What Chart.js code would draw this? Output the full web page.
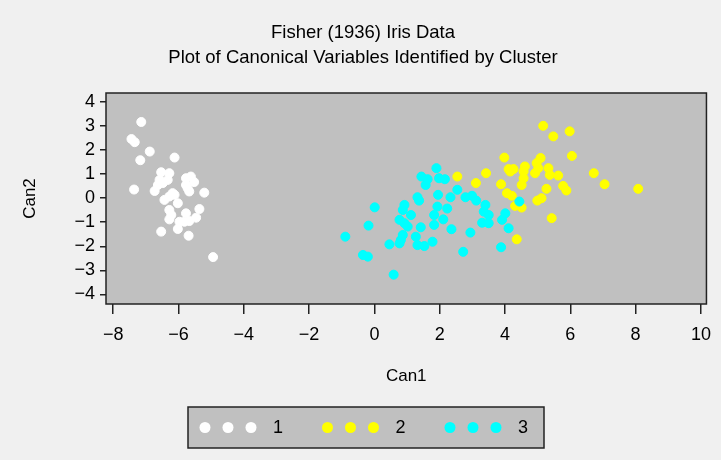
<!DOCTYPE html>
<html>
<head>
<meta charset="utf-8">
<script src="https://cdn.jsdelivr.net/npm/chart.js@4.4.1/dist/chart.umd.min.js"></script>
<style>
  html, body { margin: 0; padding: 0; background: #f0f0f0; }
  #wrap { width: 721px; height: 460px; }
</style>
</head>
<body>
<div id="wrap"><canvas id="irisChart" width="721" height="460"></canvas></div>
<script>
// Dados (Can1 / Can2 por cluster)
const clusterNames = ['1', '2', '3'];
const clusterColors = ['#ffffff', '#ffff00', '#00ffff'];

const can1Cluster1 = [-7.14,-7.44,-7.34,-6.88,-7.17,-6.12,-6.53,-6.28,-5.77,-5.62,
  -5.52,-7.36,-6.63,-6.48,-6.73,-5.21,-5.67,-6.18,-6.43,-6.02,
  -6.28,-5.36,-5.77,-5.46,-6.28,-5.97,-5.67,-6.53,-6.02,-5.69,
  -4.94,-6.58,-6.33,-5.77,-6.28,-6.12,-5.72,-6.22,-5.82];
const can2Cluster1 = [3.17,2.46,2.33,1.94,1.58,1.69,1.08,1.04,0.83,0.90,
  0.67,0.36,0.55,0.63,0.30,0.23,0.28,0.21,-0.07,-0.21,
  -0.49,-0.45,-0.63,-0.81,-0.88,-0.98,-0.95,-1.39,-1.28,-1.56,
  -2.45,0.76,0.76,0.55,0.07,0.14,0.42,-0.70,-0.98];

const can1Cluster2 = [5.17,5.48,5.98,6.05,3.98,5.09,4.97,4.11,4.26,4.16,
  4.61,4.57,3.42,4.92,5.02,5.33,5.37,5.63,4.57,4.51,
  3.88,6.72,7.05,8.08,4.06,4.21,5.78,5.88,5.27,5.12,
  4.99,4.31,4.51,5.43,4.36,2.54,3.11];
const can2Cluster2 = [3.01,2.57,2.78,1.76,1.69,1.67,1.46,1.21,1.21,1.11,
  1.32,1.11,1.04,1.04,1.25,1.25,0.97,0.94,0.83,0.55,
  0.58,1.04,0.58,0.39,0.21,0.10,0.51,0.32,0.39,0.00,
  -0.10,-0.32,-0.39,-0.83,-1.71,0.90,0.63];

const can1Cluster3 = [1.90,1.44,1.63,1.57,1.98,2.16,2.54,2.33,1.95,2.79,
  2.99,3.12,1.32,1.37,0.92,0.87,0.01,1.93,2.23,3.40,
  3.35,1.83,2.11,1.12,0.77,0.92,1.02,1.83,1.42,3.50,
  3.30,3.50,3.91,4.01,-0.18,4.11,2.36,0.87,0.81,1.27,
  1.32,1.53,1.78,2.94,-0.89,0.46,0.77,2.72,-0.35,-0.20,
  3.88,0.59,4.44];
const can2Cluster3 = [1.25,0.90,0.79,0.55,0.83,0.79,0.35,0.04,0.14,0.04,
  0.10,-0.10,0.04,-0.10,-0.28,-0.49,-0.38,-0.35,-0.43,-0.28,
  -0.56,-0.70,-0.88,-0.70,-0.90,-1.04,-1.18,-1.11,-1.21,-0.70,
  -1.02,-1.04,-0.90,-0.63,-1.14,-1.25,-1.29,-1.53,-1.74,-1.60,
  -1.95,-1.99,-1.81,-1.43,-1.60,-1.92,-1.88,-2.23,-2.36,-2.43,
  -2.04,-3.18,-0.14];

const can1Ticks = [-8, -6, -4, -2, 0, 2, 4, 6, 8, 10];
const can2Ticks = [-4, -3, -2, -1, 0, 1, 2, 3, 4];

const titleLines = ['Fisher (1936) Iris Data', 'Plot of Canonical Variables Identified by Cluster'];

const fontFamily = '"Liberation Sans", Arial, Helvetica, sans-serif';
Chart.defaults.font.family = fontFamily;
Chart.defaults.color = '#000';

function pontos(xs, ys) {
  return xs.map((x, i) => ({ x: x, y: ys[i] }));
}

function rotuloMenos(v) {
  return v < 0 ? '\u2212' + Math.abs(v) : String(v);
}

// fundo cinza e moldura da area do grafico
const plotFrame = {
  id: 'plotFrame',
  afterLayout(chart) {
    // titulo centrado na pagina toda, como no original
    if (chart.titleBlock) {
      chart.titleBlock.left = 0;
      chart.titleBlock.right = 726;
    }
  },
  beforeDraw(chart) {
    const a = chart.chartArea, ctx = chart.ctx;
    ctx.save();
    ctx.fillStyle = '#c0c0c0';
    ctx.fillRect(a.left, a.top, a.right - a.left, a.bottom - a.top);
    ctx.restore();
  },
  afterDatasetsDraw(chart) {
    const a = chart.chartArea, ctx = chart.ctx;
    ctx.save();
    ctx.strokeStyle = '#222';
    ctx.lineWidth = 1.5;
    ctx.strokeRect(a.left, a.top, a.right - a.left, a.bottom - a.top);
    ctx.restore();
  }
};

// legenda SAS: tres pontos e o numero do cluster, numa caixa cinza
const legendBox = {
  id: 'legendBox',
  afterDraw(chart) {
    const ctx = chart.ctx;
    const left = 188, top = 407, width = 356, height = 41;
    ctx.save();
    ctx.fillStyle = '#c0c0c0';
    ctx.fillRect(left, top, width, height);
    ctx.strokeStyle = '#222';
    ctx.lineWidth = 1.5;
    ctx.strokeRect(left, top, width, height);
    const cy = top + height / 2;
    chart.data.datasets.forEach((ds, i) => {
      const gx = left + 17 + i * 122.5;
      ctx.fillStyle = ds.backgroundColor;
      for (let k = 0; k < 3; k++) {
        ctx.beginPath();
        ctx.arc(gx + k * 23, cy, 5.5, 0, Math.PI * 2);
        ctx.fill();
      }
      ctx.fillStyle = '#000';
      ctx.font = '18px ' + fontFamily;
      ctx.textAlign = 'center';
      ctx.textBaseline = 'middle';
      ctx.fillText(ds.label, gx + 73, cy + 1);
    });
    ctx.restore();
  }
};

const dadosX = [can1Cluster1, can1Cluster2, can1Cluster3];
const dadosY = [can2Cluster1, can2Cluster2, can2Cluster3];

new Chart(document.getElementById('irisChart').getContext('2d'), {
  type: 'scatter',
  data: {
    datasets: clusterNames.map((nome, i) => ({
      label: nome,
      data: pontos(dadosX[i], dadosY[i]),
      backgroundColor: clusterColors[i],
      borderColor: clusterColors[i],
      borderWidth: 1,
      pointRadius: 4.5,
      order: 3 - i
    }))
  },
  options: {
    responsive: false,
    animation: false,
    devicePixelRatio: 1,
    layout: { padding: { left: 0, right: 10, top: 0, bottom: 73 } },
    plugins: {
      legend: { display: false },
      tooltip: { enabled: false },
      title: {
        display: true,
        text: titleLines,
        color: '#000',
        font: { size: 18.5, weight: 'normal', lineHeight: '25px' },
        padding: { top: 20.5, bottom: 22.5 }
      }
    },
    scales: {
      x: {
        type: 'linear',
        min: -8.22,
        max: 10.17,
        afterFit: s => { s.height = 83; },
        afterBuildTicks: s => { s.ticks = can1Ticks.map(v => ({ value: v })); },
        border: { display: false },
        grid: { drawOnChartArea: false, drawTicks: true, tickLength: 10, color: '#222', lineWidth: 1.5 },
        ticks: { font: { size: 18 }, padding: 10, maxRotation: 0, autoSkip: false, callback: rotuloMenos },
        title: { display: true, text: 'Can1', font: { size: 17 }, padding: { top: 0, bottom: 0 } }
      },
      y: {
        type: 'linear',
        min: -4.4,
        max: 4.375,
        afterFit: s => { s.width = 106; },
        afterBuildTicks: s => { s.ticks = can2Ticks.map(v => ({ value: v })); },
        border: { display: false },
        grid: { drawOnChartArea: false, drawTicks: true, tickLength: 6, color: '#222', lineWidth: 1.5 },
        ticks: { font: { size: 18 }, padding: 5, autoSkip: false, callback: rotuloMenos },
        title: { display: true, text: 'Can2', font: { size: 17 }, padding: { top: 20, bottom: 0 } }
      }
    }
  },
  plugins: [plotFrame, legendBox]
});
</script>
</body>
</html>
